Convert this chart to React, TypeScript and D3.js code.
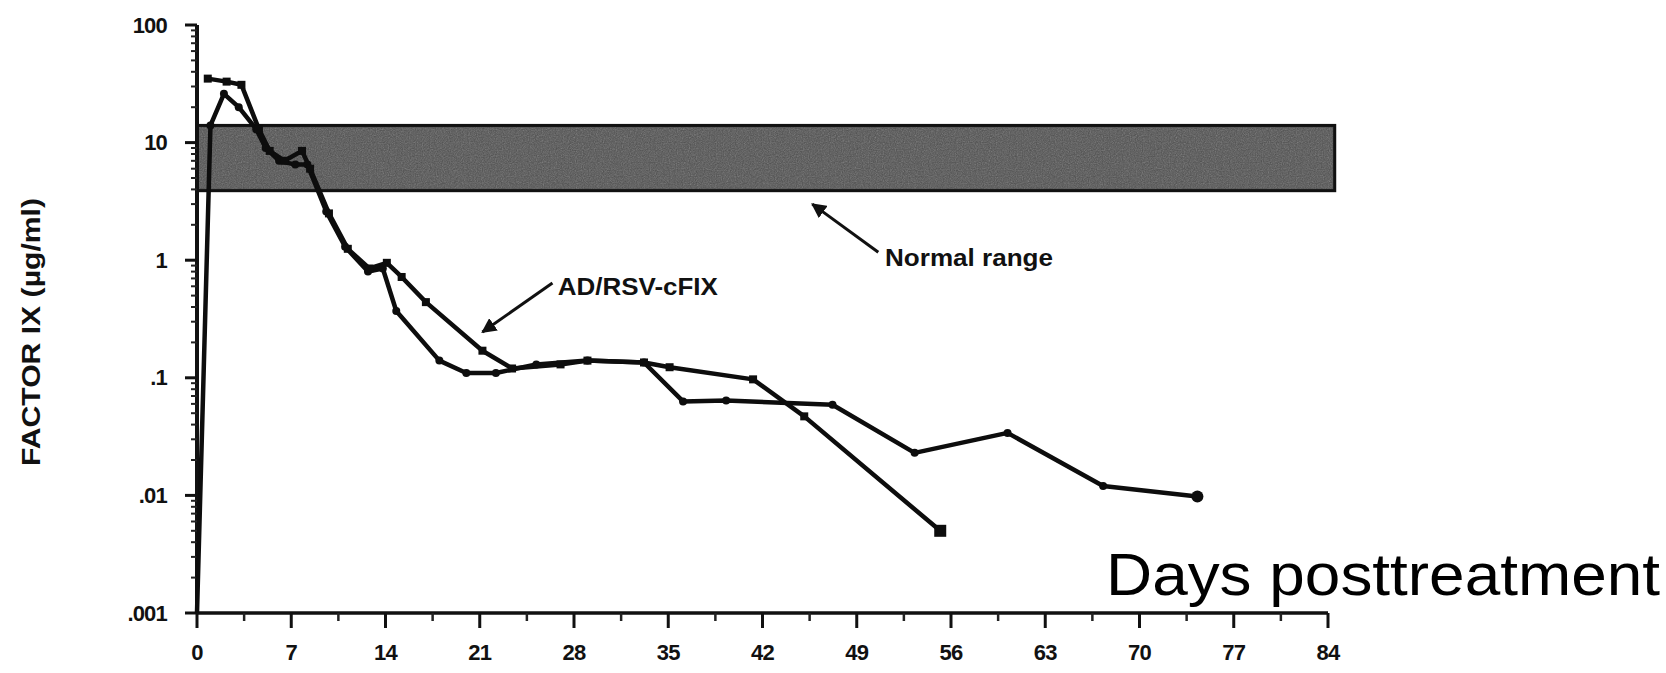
import React from 'react'
import * as d3 from 'd3'

// days posttreatment / factor IX (ug/ml)
const seriesADays = [0.8, 2.2, 3.3, 4.6, 5.4, 6.5, 7.8, 8.4, 9.8, 11.2, 12.8, 14.1, 15.2, 17, 21.2, 23.4, 27, 29, 33.2, 35.1, 41.3, 45.1, 55.2]
const seriesAValues = [35, 33, 31, 13, 8.5, 7, 8.5, 6, 2.5, 1.25, 0.85, 0.95, 0.72, 0.44, 0.17, 0.12, 0.13, 0.14, 0.135, 0.123, 0.097, 0.047, 0.005]

const seriesBDays = [0, 1, 2, 3.1, 4.4, 5.1, 6.1, 7.3, 8.2, 9.6, 11, 12.7, 13.8, 14.8, 18, 20, 22.2, 25.2, 29, 33.2, 36.1, 39.3, 47.2, 53.3, 60.2, 67.3, 74.3]
const seriesBValues = [0.001, 14, 26, 20, 13, 9, 7, 6.5, 6.5, 2.6, 1.3, 0.8, 0.85, 0.37, 0.14, 0.11, 0.11, 0.13, 0.14, 0.135, 0.063, 0.064, 0.059, 0.023, 0.034, 0.012, 0.0098]

const normalRange = [3.9, 14]
const normalRangeDays = [0, 84.5]

const xTickValues = [0, 7, 14, 21, 28, 35, 42, 49, 56, 63, 70, 77, 84]
const yTickValues = [100, 10, 1, 0.1, 0.01, 0.001]
const yTickLabels = ['100', '10', '1', '.1', '.01', '.001']

const W = 1666
const H = 673
const FONT = '"Liberation Sans", Arial, Helvetica, sans-serif'

const App = () => {
    const x = d3.scaleLinear().domain([0, 84]).range([197, 1328])
    const y = d3.scaleLog().domain([0.001, 100]).range([613, 25])

    const line = d3.line<[number, number]>()
        .x(d => x(d[0]))
        .y(d => y(d[1]))

    const a: [number, number][] = seriesADays.map((d, i) => [d, seriesAValues[i]])
    const b: [number, number][] = seriesBDays.map((d, i) => [d, seriesBValues[i]])

    const minorY = y.ticks().filter(t => !yTickValues.includes(t))
    const minorX = d3.range(3.5, 84, 7)

    const bandX0 = x(normalRangeDays[0])
    const bandX1 = x(normalRangeDays[1])
    const bandY0 = y(normalRange[1])
    const bandY1 = y(normalRange[0])

    return (
        <div style={{ position: 'absolute', left: 0, top: 0 }}>
            <svg width={W} height={H} style={{ display: 'block', background: '#fff' }}>
                <defs>
                    <filter id='grain' x='0' y='0' width='100%' height='100%'>
                        <feTurbulence type='fractalNoise' baseFrequency='0.85' numOctaves={2} seed={3} result='noise' />
                        <feColorMatrix in='noise' type='saturate' values='0' result='gray' />
                        <feComponentTransfer in='gray' result='alpha'>
                            <feFuncA type='table' tableValues='0 0.4' />
                        </feComponentTransfer>
                        <feComposite in='alpha' in2='SourceGraphic' operator='in' />
                    </filter>
                    <marker id='head' viewBox='0 0 10 10' refX='9' refY='5' markerWidth='5' markerHeight='5' orient='auto'>
                        <path d='M0,0 L10,5 L0,10 z' fill='#111' />
                    </marker>
                </defs>

                {/* normal range band */}
                <rect x={bandX0} y={bandY0} width={bandX1 - bandX0} height={bandY1 - bandY0}
                    fill='#4e4e4e' stroke='#111' strokeWidth={3} />
                <rect x={bandX0 + 2} y={bandY0 + 2} width={bandX1 - bandX0 - 4} height={bandY1 - bandY0 - 4}
                    fill='#8a8a8a' filter='url(#grain)' />

                {/* y axis */}
                <line x1={x(0)} x2={x(0)} y1={y(100)} y2={y(0.001)} stroke='#111' strokeWidth={4} />
                {yTickValues.map(t => (
                    <line key={'ym' + t} x1={x(0) - 12} x2={x(0)} y1={y(t)} y2={y(t)} stroke='#111' strokeWidth={3} />
                ))}
                {minorY.map(t => (
                    <line key={'yn' + t} x1={x(0) - 6} x2={x(0)} y1={y(t)} y2={y(t)} stroke='#222' strokeWidth={2} />
                ))}
                {yTickValues.map((t, i) => (
                    <text key={'yl' + t} x={167} y={y(t) + 7.5} textAnchor='end' fontFamily={FONT}
                        fontWeight='bold' fontSize={22} letterSpacing={-0.8} fill='#111'>{yTickLabels[i]}</text>
                ))}

                {/* x axis */}
                <line x1={x(0)} x2={x(84)} y1={y(0.001)} y2={y(0.001)} stroke='#111' strokeWidth={3.5} />
                {xTickValues.map(t => (
                    <line key={'xm' + t} x1={x(t)} x2={x(t)} y1={y(0.001)} y2={y(0.001) + 15} stroke='#111' strokeWidth={3} />
                ))}
                {minorX.map(t => (
                    <line key={'xn' + t} x1={x(t)} x2={x(t)} y1={y(0.001)} y2={y(0.001) + 8} stroke='#222' strokeWidth={2.5} />
                ))}
                {xTickValues.map(t => (
                    <text key={'xl' + t} x={x(t)} y={660} textAnchor='middle' fontFamily={FONT}
                        fontWeight='bold' fontSize={22} letterSpacing={-0.8} fill='#111'>{t}</text>
                ))}

                {/* y axis title */}
                <text transform='translate(40,332) rotate(-90)' textAnchor='middle' fontFamily={FONT}
                    fontWeight='bold' fontSize={26} textLength={268} lengthAdjust='spacingAndGlyphs' fill='#111'>
                    FACTOR IX (µg/ml)
                </text>

                {/* series */}
                <path d={line(b) ?? ''} fill='none' stroke='#0d0d0d' strokeWidth={4.5} strokeLinejoin='round' />
                <path d={line(a) ?? ''} fill='none' stroke='#0d0d0d' strokeWidth={4.5} strokeLinejoin='round' />
                {b.slice(1).map((d, i, arr) => {
                    const last = i === arr.length - 1
                    return <circle key={'bp' + i} cx={x(d[0])} cy={y(d[1])} r={last ? 6 : 4} fill='#0d0d0d' />
                })}
                {a.map((d, i) => {
                    const s = i === a.length - 1 ? 12 : 8
                    return <rect key={'ap' + i} x={x(d[0]) - s / 2} y={y(d[1]) - s / 2} width={s} height={s} fill='#0d0d0d' />
                })}

                {/* annotations */}
                <line x1={x(26.4)} y1={y(0.64)} x2={x(21.2)} y2={y(0.245)} stroke='#111' strokeWidth={3} markerEnd='url(#head)' />
                <text x={x(26.8)} y={y(0.506)} fontFamily={FONT} fontWeight='bold' fontSize={23}
                    textLength={160} lengthAdjust='spacingAndGlyphs' fill='#111'>AD/RSV-cFIX</text>

                <line x1={x(50.6)} y1={y(1.17)} x2={x(45.7)} y2={y(3.0)} stroke='#111' strokeWidth={3} markerEnd='url(#head)' />
                <text x={x(51.1)} y={y(0.89)} fontFamily={FONT} fontWeight='bold' fontSize={23}
                    textLength={168} lengthAdjust='spacingAndGlyphs' fill='#111'>Normal range</text>

                <text x={1660} y={595} textAnchor='end' fontFamily={FONT} fontSize={60}
                    textLength={554} lengthAdjust='spacingAndGlyphs' fill='#000'>Days posttreatment</text>
            </svg>
        </div>
    )
}

export default App
